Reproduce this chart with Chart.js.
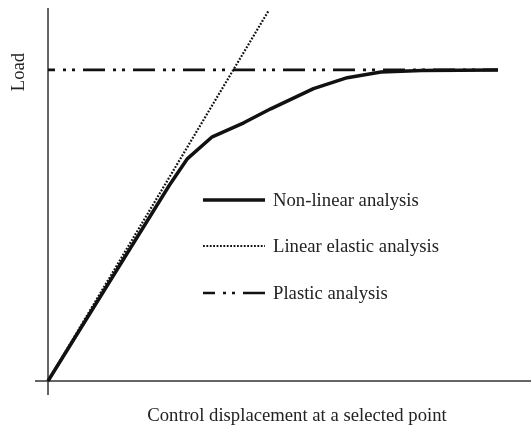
<!DOCTYPE html>
<html><head><meta charset="utf-8">
<script src="https://cdn.jsdelivr.net/npm/chart.js@4.4.1/dist/chart.umd.min.js"></script>
<style>html,body{margin:0;padding:0;background:#fff;overflow:hidden;}</style>
</head><body>
<canvas id="c" width="531" height="428" style="display:block;width:531px;height:428px"></canvas>
<script>
// ---- data ----
const seriesNames = ['Non-linear analysis', 'Linear elastic analysis', 'Plastic analysis'];
const nonLinearX = [0, 2.7, 3.1, 3.65, 4.35, 4.95, 5.9, 6.65, 7.4, 8.3, 10];
const nonLinearY = [0, 6.3, 7.15, 7.85, 8.3, 8.75, 9.4, 9.75, 9.93, 9.98, 10];
const linearX = [0, 4.9];
const linearY = [0, 11.9];
const plasticX = [0, 10];
const plasticY = [10, 10];
const xAxisTitle = 'Control displacement at a selected point';
const yAxisTitle = 'Load';

const toPts = (xs, ys) => xs.map((x, i) => ({x: x, y: ys[i]}));
const FONT = '18.7px "Liberation Serif", "Times New Roman", serif';
const INK = '#111';
const TEXT = '#222';

const axesAndText = {
  id: 'axesAndText',
  beforeDatasetsDraw(chart) {
    const ctx = chart.ctx, a = chart.chartArea;
    const xs = chart.scales.x, ys = chart.scales.y;
    const x0 = xs.getPixelForValue(0), y0 = ys.getPixelForValue(0);
    ctx.save();
    ctx.strokeStyle = '#333';
    ctx.lineWidth = 1.5;
    ctx.beginPath();
    ctx.moveTo(x0, a.top); ctx.lineTo(x0, a.bottom);
    ctx.moveTo(a.left, y0); ctx.lineTo(a.right, y0);
    ctx.stroke();
    ctx.restore();
  },
  afterDraw(chart) {
    const ctx = chart.ctx;
    ctx.save();
    ctx.fillStyle = TEXT;
    ctx.font = FONT;
    // x axis title
    ctx.textAlign = 'center';
    ctx.textBaseline = 'middle';
    ctx.fillText(xAxisTitle, 297, 416);
    // y axis title
    ctx.save();
    ctx.translate(19, 72);
    ctx.rotate(-Math.PI / 2);
    ctx.fillText(yAxisTitle, 0, 0);
    ctx.restore();
    // legend
    const rows = [200, 246, 293];
    chart.data.datasets.forEach((ds, i) => {
      const y = rows[i];
      ctx.save();
      ctx.strokeStyle = ds.borderColor;
      ctx.lineWidth = ds.borderWidth;
      ctx.setLineDash(ds.borderDash || []);
      ctx.lineDashOffset = ds.legendDashOffset || 0;
      ctx.beginPath();
      ctx.moveTo(203, y); ctx.lineTo(265, y);
      ctx.stroke();
      ctx.restore();
      ctx.textAlign = 'left';
      ctx.textBaseline = 'middle';
      ctx.fillText(ds.label, 273, y + 1);
    });
    ctx.restore();
  }
};

new Chart(document.getElementById('c'), {
  type: 'scatter',
  data: {
    datasets: [
      {label: seriesNames[0], data: toPts(nonLinearX, nonLinearY), showLine: true,
       borderColor: INK, borderWidth: 3.5, pointRadius: 0, borderJoinStyle: 'round', tension: 0},
      {label: seriesNames[1], data: toPts(linearX, linearY), showLine: true,
       borderColor: INK, borderWidth: 2.2, borderDash: [1.8, 1.6], pointRadius: 0},
      {label: seriesNames[2], data: toPts(plasticX, plasticY), showLine: true,
       borderColor: INK, borderWidth: 2.6, borderDash: [22, 8, 3, 6, 3, 8], borderDashOffset: 15,
       legendDashOffset: 10, pointRadius: 0}
    ]
  },
  options: {
    responsive: false,
    animation: false,
    devicePixelRatio: 1,
    layout: {padding: {left: 35, right: 0, top: 8, bottom: 33}},
    plugins: {legend: {display: false}, tooltip: {enabled: false}},
    scales: {
      x: {type: 'linear', display: false, min: -0.289, max: 10.733},
      y: {type: 'linear', display: false, min: -0.45, max: 11.99}
    }
  },
  plugins: [axesAndText]
});
</script>
</body></html>
